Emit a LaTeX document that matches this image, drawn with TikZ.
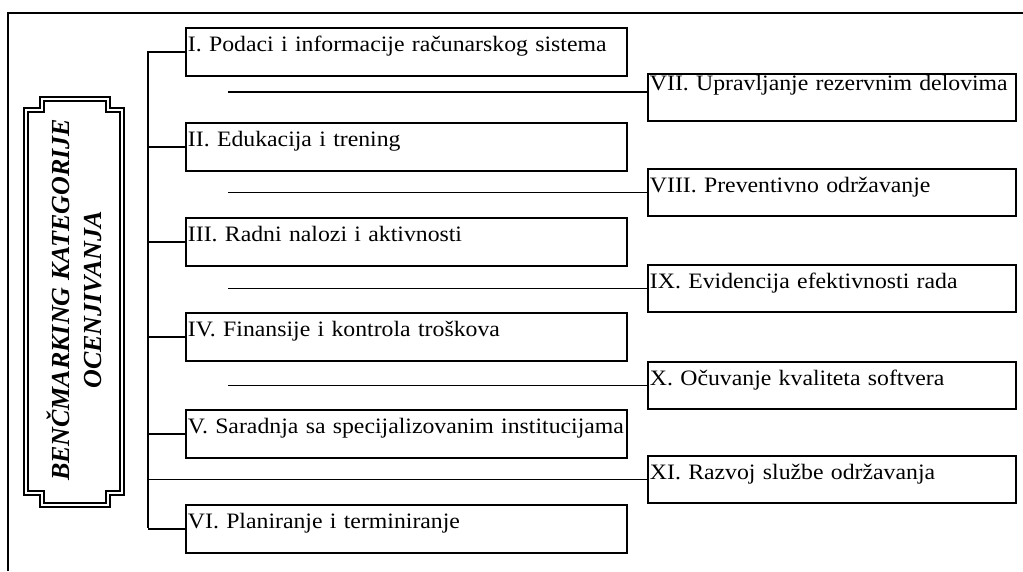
\documentclass[tikz,border=0pt]{standalone}
\usepackage{fontspec}
\setmainfont{Liberation Serif}[FakeStretch=1.08]
\newfontfamily\titlefont{Liberation Serif}
\begin{document}
\begin{tikzpicture}[x=0.75pt,y=-0.75pt,
  frame/.style={line width=1.1pt},
  link/.style={line width=0.9pt},
  catbox/.style={draw, line width=1.4pt, anchor=north west, inner xsep=1.5pt, inner ysep=0pt,
    align=left, text height=10pt, text depth=10pt, font=\fontsize{16.5}{19}\selectfont},
  leftbox/.style={catbox, minimum width=330.75pt, minimum height=36pt, text width=327.75pt},
  rightbox/.style={catbox, minimum width=276pt, minimum height=35.25pt, text width=273pt},
  titlestyle/.style={font=\titlefont\bfseries\itshape\fontsize{19.5}{24}\selectfont, rotate=90, align=center, inner sep=0pt}
]
\useasboundingbox (0,0) rectangle (1023,571);

% outer frame (open: top and left edges only)
\coordinate (fa) at (8,571);
\coordinate (fb) at (8,13);
\coordinate (fc) at (1023,13);
\draw[frame] (fa) -- (fb) -- (fc);

% title plaque
\draw[line width=1.3pt] (40,97) -- (110,97) -- (110,108) -- (124,108) -- (124,495) -- (110,495)
  -- (110,507) -- (40,507) -- (40,495) -- (24,495) -- (24,108) -- (40,108) -- cycle;
\draw[line width=0.8pt] (44,101) -- (106,101) -- (106,112) -- (120,112) -- (120,491) -- (106,491)
  -- (106,503) -- (44,503) -- (44,491) -- (28,491) -- (28,112) -- (44,112) -- cycle;
\node[titlestyle] (title) at (74,300) {BENČMARKING KATEGORIJE\\OCENJIVANJA};

% left column
\node[leftbox] (b1) at (185,27)  {\mbox{I. Podaci i informacije računarskog sistema}};
\node[leftbox] (b2) at (185,122) {\mbox{II. Edukacija i trening}};
\node[leftbox] (b3) at (185,217) {\mbox{III. Radni nalozi i aktivnosti}};
\node[leftbox] (b4) at (185,312) {\mbox{IV. Finansije i kontrola troškova}};
\node[leftbox] (b5) at (185,409) {\mbox{V. Saradnja sa specijalizovanim institucijama}};
\node[leftbox] (b6) at (185,504) {\mbox{VI. Planiranje i terminiranje}};

% right column
\node[rightbox, text height=10pt, text depth=19.75pt] (b7) at (647,73) {\mbox{VII. Upravljanje rezervnim delovima}};
\node[rightbox] (b8)  at (647,168) {\mbox{VIII. Preventivno održavanje}};
\node[rightbox] (b9)  at (647,264) {\mbox{IX. Evidencija efektivnosti rada}};
\node[rightbox] (b10) at (647,361) {\mbox{X. Očuvanje kvaliteta softvera}};
\node[rightbox] (b11) at (647,455) {\mbox{XI. Razvoj službe održavanja}};

% trunk
\coordinate (ttop) at (148,51);
\coordinate (tbot) at (148,528);
\draw[link] (ttop) -- (tbot);
\foreach \b in {b1,b2,b3,b4,b5,b6,b11}
  \draw[link] (\b.west) -- (\b.west -| ttop);

% free connectors to right boxes
\coordinate (lx) at (228,0);
\coordinate (s7) at (228,92);
\draw[link] (s7) -- (s7 -| b7.west);
\foreach \b in {b8,b9,b10}
  \draw[link] (\b.west -| lx) -- (\b.west);
\end{tikzpicture}
\end{document}
